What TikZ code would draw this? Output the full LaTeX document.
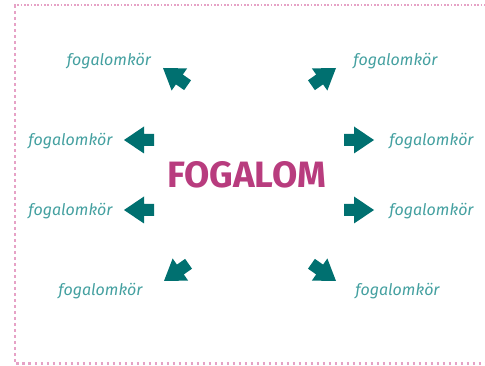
\documentclass[tikz,border=0pt]{standalone}
\usepackage{fontspec}
\setmainfont{Fira Sans}
\definecolor{arrowteal}{HTML}{007070}
\definecolor{labelteal}{HTML}{44A0A0}
\definecolor{magenta}{HTML}{B83C7E}
\definecolor{dotpink}{HTML}{E6A2C6}
\begin{document}
\begin{tikzpicture}[x=0.75pt,y=-0.75pt,
  lbl/.style={font=\fontsize{12}{14}\selectfont\itshape, text=labelteal, inner sep=0pt},
  title/.style={font=\fontsize{27.5}{32}\selectfont\bfseries, text=magenta, inner sep=0pt},
  blockarrow/.pic={\fill[arrowteal] (0,0) -- (-20,13.5) -- (-20,6) -- (-30,6) -- (-30,-6) -- (-20,-6) -- (-20,-13.5) -- cycle;}]
\useasboundingbox (0,0) rectangle (485,366);
% border
\draw[dotpink, line width=1.2pt, dash pattern=on 1.2pt off 1.3pt] (14,5) -- (485,5);
\draw[dotpink, line width=2pt, dash pattern=on 2pt off 2.5pt] (15,5) -- (15,363.5) -- (485,363.5);
% centre
\node[title] (c) at (246.5,175) {FOGALOM};
% labels
\node[lbl] (tl) at (109,61) {fogalomkör};
\node[lbl] (tr) at (395.5,61) {fogalomkör};
\node[lbl] (ml1) at (70.5,141) {fogalomkör};
\node[lbl] (ml2) at (70.5,211) {fogalomkör};
\node[lbl] (mr1) at (431.5,141) {fogalomkör};
\node[lbl] (mr2) at (431.5,211) {fogalomkör};
\node[lbl] (bl) at (100.5,291) {fogalomkör};
\node[lbl] (br) at (397.5,291) {fogalomkör};
% arrows
\pic[shift={(163,68)}, rotate=145] {blockarrow};
\pic[shift={(336,68)}, rotate=35] {blockarrow};
\pic[shift={(124,140)}, rotate=180] {blockarrow};
\pic[shift={(124,210)}, rotate=180] {blockarrow};
\pic[shift={(374,140)}, rotate=0] {blockarrow};
\pic[shift={(374,210)}, rotate=0] {blockarrow};
\pic[shift={(164,281)}, rotate=215] {blockarrow};
\pic[shift={(336,281)}, rotate=325] {blockarrow};
\end{tikzpicture}
\end{document}
